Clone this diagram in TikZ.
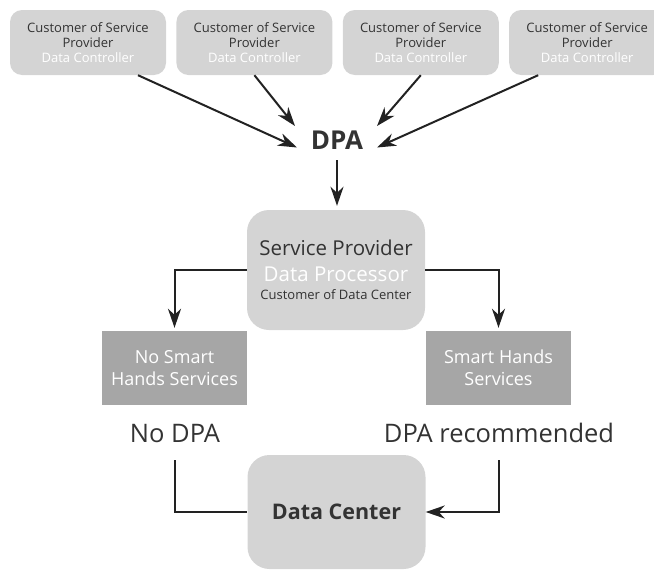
\documentclass[tikz,border=0pt]{standalone}
\usepackage{fontspec}
\setmainfont{Open Sans}
\usetikzlibrary{arrows.meta, calc, positioning}
\definecolor{boxgray}{HTML}{D4D4D4}
\definecolor{shgray}{HTML}{A6A6A6}
\definecolor{txtgray}{HTML}{333333}
\definecolor{linegray}{HTML}{222222}
\tikzset{
node distance=10pt,
every node/.style={inner sep=1pt, text=txtgray},
cust/.style={rounded corners=12pt, fill=boxgray, minimum width=156pt, minimum height=65pt,
  align=center, font=\fontsize{13}{15}\selectfont},
mainbox/.style={rounded corners=22pt, fill=boxgray, minimum width=178pt, align=center},
shbox/.style={fill=shgray, text=white, minimum width=145pt, minimum height=74pt,
  align=center, font=\fontsize{18}{22}\selectfont},
conn/.style={draw=linegray, line width=2pt},
arr/.style={conn, -{Stealth[length=19pt,width=13pt,inset=6pt]}}, % long sharp heads
}
\begin{document}
\begin{tikzpicture}[x=1pt,y=-1pt]
  \useasboundingbox (0,0) rectangle (654,570);

  % customers of the service provider
  \node[cust] (c1) at (88,42.5) {Customer of Service\\Provider\\{\color{white}Data Controller}};
  \node[cust, right=of c1] (c2) {Customer of Service\\Provider\\{\color{white}Data Controller}};
  \node[cust, right=of c2] (c3) {Customer of Service\\Provider\\{\color{white}Data Controller}};
  \node[cust, right=of c3] (c4) {Customer of Service\\Provider\\{\color{white}Data Controller}};

  \node[font=\fontsize{26}{30}\selectfont\bfseries] (dpa) at (337,140.5) {DPA};

  \node[mainbox, minimum height=120pt, font=\fontsize{20.5}{26}\selectfont] (sp) at (336,270)
    {Service Provider\\
     {\color{white}Data Processor}\\[-8pt]
     {\fontsize{13}{16}\selectfont Customer of Data Center}};

  \node[shbox] (nosh) at (174.5,368) {No Smart\\Hands Services};
  \node[shbox] (sh) at (498.5,368) {Smart Hands\\Services};

  \node[font=\fontsize{25.5}{30}\selectfont, anchor=base] (nodpa) at (175,442) {No DPA};
  \node[font=\fontsize{25.5}{30}\selectfont, anchor=base] (dparec) at (499,442) {DPA recommended};

  \node[mainbox, minimum height=114pt, font=\fontsize{21.5}{25}\selectfont\bfseries] (dc) at (336.5,512) {Data Center};

  \draw[arr] ([xshift=50pt]c1.south) -- ([shift={(-40pt,-7pt)}]dpa.center);
  \draw[arr] (c2.south) -- ([shift={(-42pt,14.5pt)}]dpa.center);
  \draw[arr] (c3.south) -- ([shift={(40pt,14.5pt)}]dpa.center);
  \draw[arr] ([xshift=-49pt]c4.south) -- ([shift={(40pt,-7pt)}]dpa.center);

  \draw[arr,shorten <=9pt,shorten >=4pt] (dpa.south) -- (dpa.south |- sp.north);
  \draw[arr,shorten >=3pt] (sp.west) -| (nosh.north);
  \draw[arr,shorten >=3pt] (sp.east) -| (sh.north);
  \draw[conn,shorten <=17pt] (nodpa.south) |- (dc.west);
  \draw[arr,shorten <=17pt] (dparec.south) |- (dc.east);
\end{tikzpicture}
\end{document}
